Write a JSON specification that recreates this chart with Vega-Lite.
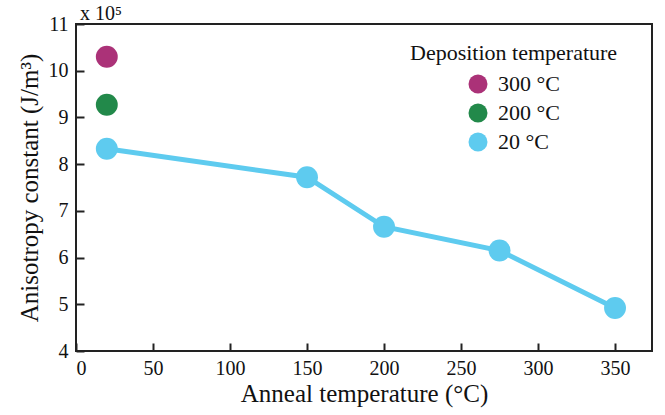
{
  "$schema": "https://vega.github.io/schema/vega-lite/v6.json",
  "width": 576,
  "height": 327,
  "autosize": {"type": "none"},
  "padding": {"left": 76, "top": 24, "right": 13, "bottom": 64},
  "background": "white",
  "config": {
    "font": "Liberation Serif",
    "view": {"stroke": "#222", "strokeWidth": 2},
    "axis": {"grid": false, "domain": false, "tickColor": "#222", "tickWidth": 2, "tickSize": -8, "labelFont": "Liberation Serif", "labelFontSize": 20, "labelColor": "#111", "titleFont": "Liberation Serif", "titleFontSize": 25, "titleFontWeight": "normal", "titleColor": "#111"},
    "legend": {"labelFont": "Liberation Serif", "titleFont": "Liberation Serif"}
  },
  "title": {"text": "x 10⁵", "anchor": "start", "frame": "group", "dx": 4, "offset": -10, "fontSize": 20, "fontWeight": "normal", "font": "Liberation Serif", "color": "#111"},
  "data": {
    "values": [
      {"anneal": 20, "k": 10.3, "dep": "300 °C"},
      {"anneal": 20, "k": 9.27, "dep": "200 °C"},
      {"anneal": 20, "k": 8.33, "dep": "20 °C"},
      {"anneal": 150, "k": 7.72, "dep": "20 °C"},
      {"anneal": 200, "k": 6.66, "dep": "20 °C"},
      {"anneal": 275, "k": 6.15, "dep": "20 °C"},
      {"anneal": 350, "k": 4.92, "dep": "20 °C"}
    ]
  },
  "encoding": {
    "x": {"field": "anneal", "type": "quantitative", "scale": {"domain": [0, 374], "nice": false, "zero": false}, "axis": {"values": [0, 50, 100, 150, 200, 250, 300, 350], "title": "Anneal temperature (°C)", "labelPadding": 15, "titlePadding": 3}},
    "y": {"field": "k", "type": "quantitative", "scale": {"domain": [4, 11], "nice": false, "zero": false}, "axis": {"values": [4, 5, 6, 7, 8, 9, 10, 11], "title": "Anisotropy constant (J/m³)", "labelPadding": 16, "titlePadding": 6}}
  },
  "layer": [
    {
      "transform": [{"filter": "datum.dep === '20 °C'"}],
      "mark": {"type": "line", "color": "#5ecbef", "strokeWidth": 5},
      "encoding": {"order": {"field": "anneal"}}
    },
    {
      "mark": {"type": "circle", "opacity": 1, "size": 480},
      "encoding": {
        "color": {
          "field": "dep", "type": "nominal",
          "scale": {"domain": ["300 °C", "200 °C", "20 °C"], "range": ["#ab3278", "#22894a", "#5ecbef"]},
          "legend": {"title": "Deposition temperature", "orient": "none", "legendX": 334, "legendY": 19, "titleLimit": 400, "titleFontSize": 22, "titleFontWeight": "normal", "titleColor": "#111", "labelFontSize": 22, "labelColor": "#111", "symbolSize": 360, "symbolOffset": 57, "symbolType": "circle", "symbolStrokeWidth": 0, "rowPadding": 7, "titlePadding": 8, "labelOffset": 9}
        }
      }
    }
  ]
}
